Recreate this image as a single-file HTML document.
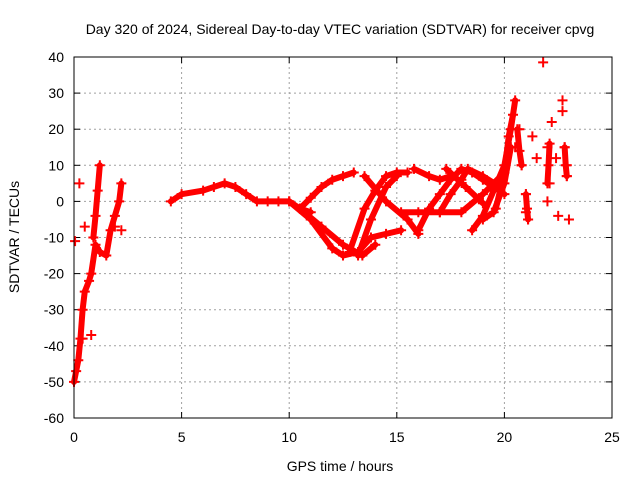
<!DOCTYPE html>
<html><head><meta charset="utf-8"><style>
body{margin:0;background:#fff;}
svg text{font-family:"Liberation Sans",sans-serif;font-size:14px;fill:#000;}
</style></head><body>
<svg id="chart" width="640" height="480" xmlns="http://www.w3.org/2000/svg">
<text x="340" y="34" text-anchor="middle">Day 320 of 2024, Sidereal Day-to-day VTEC variation (SDTVAR) for receiver cpvg</text>
<g id="grid"></g><g id="ticks"></g><g id="marks"></g>
<rect x="74" y="57" width="538" height="361" fill="none" stroke="#000" stroke-width="1"/>
<text x="340" y="471" text-anchor="middle">GPS time / hours</text>
<text transform="translate(19,237) rotate(-90)" text-anchor="middle">SDTVAR / TECUs</text>
</svg>
<script>
const xTicks=[0,5,10,15,20,25];
const yTicks=[-60,-50,-40,-30,-20,-10,0,10,20,30,40];
const track1=[[0,-50],[0.1,-47],[0.2,-44],[0.3,-38],[0.4,-30],[0.5,-25],[0.7,-22],[0.8,-20],[1.0,-12],[1.2,-14],[1.5,-15],[1.7,-8],[1.9,-4],[2.1,0],[2.2,5]];
const track2=[[0.9,-10],[1.0,-4],[1.1,3],[1.2,10]];
const track3=[[4.5,0],[5,2],[6,3],[6.5,4],[7,5],[7.5,4],[8,2],[8.5,0],[9,0],[9.5,0],[10,0],[10.5,-2],[11,-3]];
const track4=[[10,0],[11,-5],[12,-13],[12.5,-15],[13.2,-14],[13.8,-10],[14.5,-9],[15.2,-8]];
const track5=[[10.5,-2],[11.5,-7],[12.5,-12],[13.4,-15],[14,-12]];
const track6=[[10.5,-2],[11,1],[11.5,4],[12,6],[12.5,7],[13,8]];
const track7=[[12.8,-14],[13.5,-2],[14,3],[14.5,7],[15,8],[15.5,8]];
const track8=[[13.2,-15],[13.8,-5],[14.5,4],[15,7]];
const track9=[[13.5,7],[14.5,0],[15.5,-5],[16,-9]];
const track10=[[15.8,9],[16.5,7],[17,6],[17.5,7]];
const track11=[[16,-8],[16.5,-2],[17,2],[17.5,6],[18,9],[18.5,8],[19,6],[19.5,4],[20,2]];
const track12=[[15.2,-3],[16,-3],[17,-3],[18,-3],[19,2],[20,8]];
const track13=[[17,-3],[17.5,2],[18,6],[18.3,9],[19,7],[19.8,4]];
const track14=[[18.5,-8],[19,-4],[19.5,3],[20,10],[20.3,20],[20.5,28]];
const track15=[[19,-5],[19.5,-3],[20,5],[20.3,15]];
const track16=[[17.3,9],[18.2,4],[19,-0.5]];
const track17=[[19.6,-2],[20,8],[20.2,18],[20.4,24]];
const track18=[[20.6,20],[20.7,14],[20.8,10]];
const track19=[[21,2],[21.05,-2],[21.1,-5]];
const track20=[[22,5],[22.05,10],[22.1,16]];
const track21=[[22.8,15],[22.85,10],[22.9,7]];
const scatterPts=[[0.05,-11],[0.25,5],[0.5,-7],[0.4,-38],[0.8,-37],[1.9,-7],[2.2,-8],[20.5,15],[20.7,20],[20.8,10],[21,2],[21,-3],[21.1,-5],[21.8,38.5],[22,15],[22.1,5],[22,0],[22.2,22],[22.5,-4],[22.7,28],[22.7,25],[22.8,15],[22.9,10],[23,-5],[22.9,7],[21.3,18],[21.5,12],[22.4,12]];
const tracks=[track1,track2,track3,track4,track5,track6,track7,track8,track9,track10,track11,track12,track13,track14,track15,track16,track17,track18,track19,track20,track21];
const NS="http://www.w3.org/2000/svg";
const X=t=>74+t/25*538, Y=v=>57+(40-v)/100*361;
function mk(tag,attrs,parent){const e=document.createElementNS(NS,tag);for(const k in attrs)e.setAttribute(k,attrs[k]);parent.appendChild(e);return e;}
const grid=document.getElementById('grid'),ticks=document.getElementById('ticks'),marks=document.getElementById('marks');
xTicks.forEach(t=>{
 if(t>0&&t<25){const g=mk('line',{x1:X(t),x2:X(t),y1:57,y2:418,stroke:'#a0a0a0','stroke-dasharray':'2,3'},grid);
 
 }
 mk('line',{x1:X(t),x2:X(t),y1:418,y2:412,stroke:'#000'},ticks);mk('line',{x1:X(t),x2:X(t),y1:57,y2:63,stroke:'#000'},ticks);
 const l=mk('text',{x:X(t),y:442,'text-anchor':'middle'},ticks);l.textContent=t;
 
 
});
yTicks.forEach(v=>{
 if(v>-60&&v<40){const g=mk('line',{x1:74,x2:612,y1:Y(v),y2:Y(v),stroke:'#a0a0a0','stroke-dasharray':'2,3'},grid);
 
 }
 mk('line',{x1:74,x2:80,y1:Y(v),y2:Y(v),stroke:'#000'},ticks);mk('line',{x1:612,x2:606,y1:Y(v),y2:Y(v),stroke:'#000'},ticks);
 const l=mk('text',{x:64,y:Y(v)+5,'text-anchor':'end'},ticks);l.textContent=v;
 
 
});
function plus(t,v){const p=mk('path',{d:`M${X(t)-5},${Y(v)}h10M${X(t)},${Y(v)-5}v10`,stroke:'#f00','stroke-width':2},marks);
 
 }
tracks.forEach(tr=>{
 const pl=mk('polyline',{points:tr.map(p=>X(p[0])+','+Y(p[1])).join(' '),fill:'none',stroke:'#f00','stroke-width':6,'stroke-linejoin':'round','stroke-linecap':'round'},marks);
 
 
 tr.forEach(p=>plus(p[0],p[1]));
});
scatterPts.forEach(p=>plus(p[0],p[1]));
</script>
</body></html>
